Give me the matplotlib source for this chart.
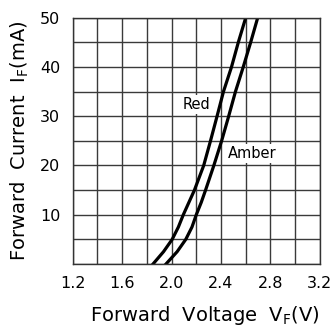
import numpy as np
import matplotlib
matplotlib.use("Agg")
import matplotlib.pyplot as plt

# forward current (mA)
current_ma = [0, 2.5, 5, 7.5, 10, 12.5, 15, 20, 25, 30, 35, 40, 45, 50]
# forward voltage (V) for each LED colour
red_v = [1.85, 1.935, 2.005, 2.055, 2.095, 2.14, 2.185, 2.26, 2.315, 2.368, 2.42, 2.485, 2.54, 2.60]
amber_v = [1.955, 2.045, 2.115, 2.165, 2.2, 2.24, 2.275, 2.342, 2.405, 2.462, 2.517, 2.58, 2.64, 2.697]

x_grid = np.arange(1.2, 3.21, 0.2)
x_labels = ["1.2", "", "1.6", "", "2.0", "", "2.4", "", "2.8", "", "3.2"]
y_grid = np.arange(0, 51, 5)
y_labels = ["", "", "10", "", "20", "", "30", "", "40", "", "50"]

fig = plt.figure(figsize=(3.36, 3.34), dpi=100)
ax = fig.add_axes([0.2164, 0.2096, 0.7356, 0.7374])

ax.plot(red_v, current_ma, color="black", lw=2.3, solid_joinstyle="round")
ax.plot(amber_v, current_ma, color="black", lw=2.3, solid_joinstyle="round")

ax.set_xlim(1.2, 3.2)
ax.set_ylim(0, 50)
ax.set_xticks(x_grid)
ax.set_xticklabels(x_labels)
ax.set_yticks(y_grid)
ax.set_yticklabels(y_labels)
ax.tick_params(length=0, labelsize=11.5, pad=9)
ax.grid(True, color="#3a3a3a", lw=1.0)
ax.set_axisbelow(True)
for s in ax.spines.values():
    s.set_color("#333333")
    s.set_linewidth(1.0)

ax.text(2.205, 32.3, "Red", fontsize=10.5, ha="center", va="center",
        bbox=dict(facecolor="white", edgecolor="none", pad=1.5))
ax.text(2.652, 22.4, "Amber", fontsize=10.5, ha="center", va="center",
        bbox=dict(facecolor="white", edgecolor="none", pad=1.5))

fig.text(0.058, 0.5 * (0.2096 + 0.947), r"Forward  Current  I$_\mathregular{F}$(mA)",
         rotation=90, ha="center", va="center", fontsize=14)
fig.text(0.61, 0.055, r"Forward  Voltage  V$_\mathregular{F}$(V)",
         ha="center", va="center", fontsize=14)

fig.savefig("out.png", dpi=100)
